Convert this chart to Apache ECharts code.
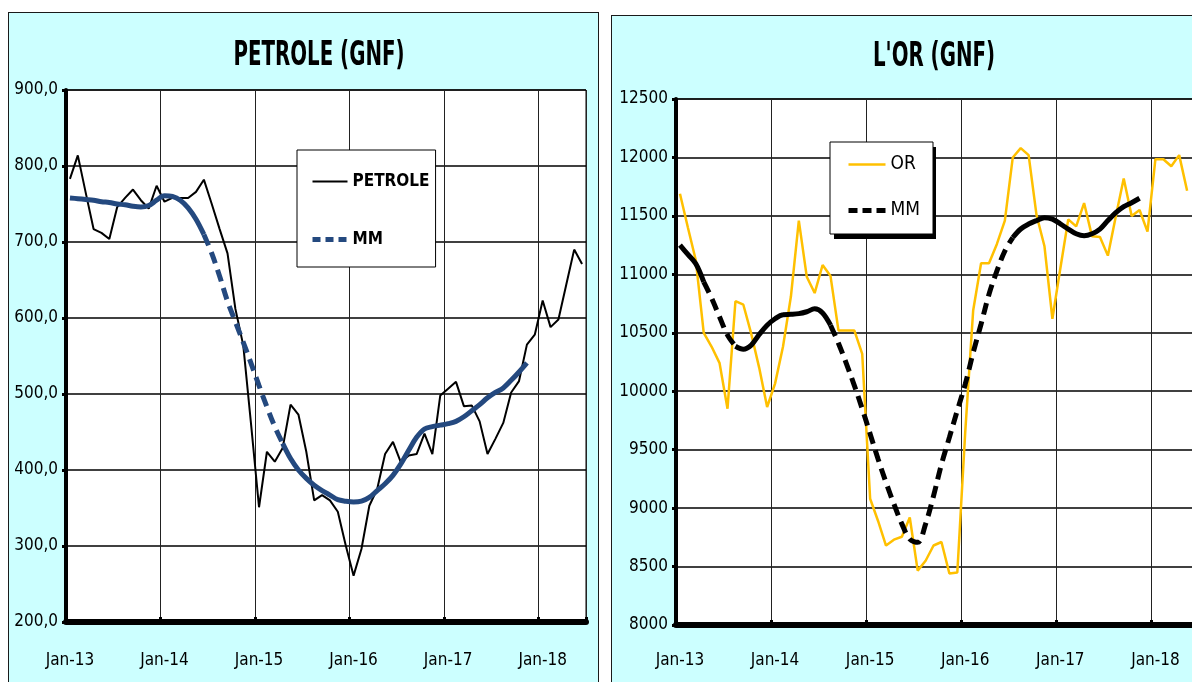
<!DOCTYPE html>
<html>
<head>
<meta charset="utf-8">
<script src="https://cdn.jsdelivr.net/npm/echarts@6/dist/echarts.min.js"></script>
<style>
  html, body { margin: 0; padding: 0; background: #fff; width: 1192px; height: 682px; overflow: hidden; }
  .panel { position: absolute; background: #ccffff; border: 1px solid #1a1a1a; height: 690px; }
  #petrole { left: 8px; top: 12px; width: 589px; }
  #or { left: 611px; top: 15px; width: 600px; }
</style>
</head>
<body>
<div id="petrole" class="panel"></div>
<div id="or" class="panel"></div>
<script>
// mois : Jan-13 ... Jun-18
const years = ['13', '14', '15', '16', '17', '18']
const monthNames = ['Jan', 'Feb', 'Mar', 'Apr', 'May', 'Jun', 'Jul', 'Aug', 'Sep', 'Oct', 'Nov', 'Dec']
const months = []
years.forEach(y => monthNames.forEach(m => months.push(m + '-' + y)))
months.length = 66

// PETROLE (GNF)
const petrole = [
  783, 814, 765, 717, 712, 704, 746, 758, 769, 755, 744, 774,
  753, 758, 758, 758, 766, 782, 750, 717, 685, 612, 564, 459,
  351, 424, 411, 429, 486, 473, 424, 360, 367, 360, 345, 301,
  261, 296, 353, 375, 421, 437, 410, 419, 421, 448, 421, 498,
  507, 516, 484, 485, 464, 421, 441, 462, 502, 517, 565, 578,
  623, 588, 598, 644, 690, 671
]
const petroleMM = [
  758, 757, 756, 755, 753, 752, 750, 749, 747, 746, 748, 755,
  761, 760, 755, 745, 730, 710, 685, 655, 622, 595, 568, 540,
  511, 483, 457, 435, 415, 400, 389, 380, 373, 367, 361, 359,
  358, 359, 364, 373, 382, 393, 408, 426, 443, 454, 457, 459,
  461, 464, 470, 478, 486, 495, 502, 508, 518, 529, 541
]
const petroleDashed = [[17, 27]]

// L'OR (GNF)
const or = [
  11690, 11400, 11120, 10500, 10380, 10240, 9850, 10770, 10740, 10490, 10200, 9865,
  10065, 10380, 10810, 11460, 10980, 10840, 11080, 10985, 10520, 10520, 10520, 10320,
  9080, 8890, 8680, 8730, 8755, 8920, 8465, 8550, 8680, 8710, 8440, 8450,
  9650, 10690, 11095, 11095, 11260, 11460, 12000, 12080, 12020, 11505, 11240, 10620,
  11050, 11470, 11410, 11610, 11325, 11320, 11160, 11495, 11820, 11500, 11550, 11365,
  11985, 11985, 11925, 12020, 11715
]
const orMM = [
  11250, 11170, 11090, 10935, 10795, 10635, 10480, 10385, 10360, 10395, 10485, 10565,
  10620, 10655, 10658, 10664, 10680, 10705, 10670, 10565, 10410, 10236, 10050, 9850,
  9635, 9420, 9220, 9035, 8865, 8735, 8707, 8865, 9105, 9375, 9605, 9835,
  10060, 10330, 10575, 10830, 11030, 11200, 11315, 11388, 11430, 11460, 11485, 11472,
  11432, 11387, 11347, 11330, 11347, 11387, 11460, 11528, 11579, 11613, 11651
]
const orDashed = [[3, 7], [19, 42]]

const NARROW = "'DejaVu Sans Condensed', 'Liberation Sans Narrow', sans-serif"

// coupe la moyenne mobile en partie pleine / partie pointillée
function splitDashed(values, ranges) {
  const inside = i => ranges.some(r => i > r[0] && i < r[1])
  const onDash = i => ranges.some(r => i >= r[0] && i <= r[1])
  return {
    solid: values.map((v, i) => (inside(i) ? null : v)),
    dashed: values.map((v, i) => (onDash(i) ? v : null))
  }
}

function xAxisCfg(labelMargin) {
  return {
    type: 'category',
    data: months,
    boundaryGap: true,
    axisLine: { lineStyle: { color: '#000', width: 6 } },
    axisTick: { show: true, inside: true, length: 5, interval: 11, lineStyle: { color: '#000', width: 3 } },
    axisLabel: { interval: 11, margin: labelMargin, color: '#000', fontFamily: NARROW, fontSize: 17 },
    splitLine: { show: true, interval: 11, lineStyle: { color: '#222', width: 1 } }
  }
}

function yAxisCfg(min, max, step, fmt) {
  return {
    type: 'value',
    min: min,
    max: max,
    interval: step,
    axisLine: { show: true, lineStyle: { color: '#000', width: 4 } },
    axisTick: { show: true, length: 4, lineStyle: { color: '#000', width: 3 } },
    axisLabel: { margin: 8, color: '#000', fontFamily: NARROW, fontSize: 17, formatter: fmt },
    splitLine: { show: true, lineStyle: { color: '#000', width: 1.5 } }
  }
}

function titleText(text, x, y) {
  return {
    type: 'text',
    x: x,
    y: y,
    scaleY: 1.5,
    z: 10,
    style: {
      text: text,
      fill: '#000',
      font: 'bold 22px ' + NARROW,
      align: 'center',
      verticalAlign: 'middle'
    }
  }
}

// ---- PETROLE ----
const pSplit = splitDashed(petroleMM, petroleDashed)
const petroleChart = echarts.init(document.getElementById('petrole'))
petroleChart.setOption({
  animation: false,
  graphic: [titleText('PETROLE (GNF)', 310, 43)],
  grid: { left: 57, top: 77, width: 520, height: 532, show: true, backgroundColor: '#fff', borderColor: '#000', borderWidth: 1 },
  legend: {
    data: [
      { name: 'PETROLE', lineStyle: { width: 2 } },
      { name: 'MM', lineStyle: { width: 5, type: [8, 5] } }
    ],
    orient: 'vertical',
    left: 288,
    top: 137,
    padding: [23, 6, 19, 13],
    itemGap: 41,
    itemWidth: 35,
    itemHeight: 20,
    selectedMode: false,
    itemStyle: { opacity: 0 },
    backgroundColor: '#fff',
    borderColor: '#000',
    borderWidth: 1,
    textStyle: { fontFamily: NARROW, fontSize: 17, fontWeight: 'bold', color: '#000' }
  },
  xAxis: xAxisCfg(30),
  yAxis: yAxisCfg(200, 900, 100, v => v.toFixed(1).replace('.', ',')),
  series: [
    {
      name: 'PETROLE', type: 'line', data: petrole, symbol: 'none',
      lineStyle: { color: '#000', width: 2 }, itemStyle: { color: '#000' }
    },
    {
      name: 'MM plein', type: 'line', data: pSplit.solid, symbol: 'none', smooth: 0.35,
      lineStyle: { color: '#24497f', width: 5 }, itemStyle: { color: '#24497f' }
    },
    {
      name: 'MM', type: 'line', data: pSplit.dashed, symbol: 'none', smooth: 0.35,
      lineStyle: { color: '#24497f', width: 5, type: [12, 7] }, itemStyle: { color: '#24497f' }
    }
  ]
})

// ---- OR ----
const oSplit = splitDashed(orMM, orDashed)
const orChart = echarts.init(document.getElementById('or'))
orChart.setOption({
  animation: false,
  graphic: [
    titleText("L'OR (GNF)", 322, 41),
    // ombre portée de la légende
    { type: 'rect', z: 3, shape: { x: 222, y: 131, width: 102, height: 92 }, style: { fill: '#000' } }
  ],
  grid: { left: 64, top: 83, width: 523, height: 526, show: true, backgroundColor: '#fff', borderColor: '#000', borderWidth: 1 },
  legend: {
    data: [
      { name: 'OR', lineStyle: { width: 2.5 } },
      { name: 'MM', lineStyle: { width: 5, type: [9, 5] } }
    ],
    orient: 'vertical',
    left: 218,
    top: 126,
    padding: [13, 13, 14, 16],
    itemGap: 27,
    itemWidth: 37,
    itemHeight: 20,
    selectedMode: false,
    itemStyle: { opacity: 0 },
    backgroundColor: '#fff',
    borderColor: '#000',
    borderWidth: 1,
    textStyle: { fontFamily: NARROW, fontSize: 19, color: '#000' }
  },
  xAxis: xAxisCfg(27),
  yAxis: yAxisCfg(8000, 12500, 500, v => String(v)),
  series: [
    {
      name: 'OR', type: 'line', data: or, symbol: 'none',
      lineStyle: { color: '#ffc000', width: 2.5 }, itemStyle: { color: '#ffc000' }
    },
    {
      name: 'MM plein', type: 'line', data: oSplit.solid, symbol: 'none', smooth: 0.35,
      lineStyle: { color: '#000', width: 5 }, itemStyle: { color: '#000' }
    },
    {
      name: 'MM', type: 'line', data: oSplit.dashed, symbol: 'none', smooth: 0.35,
      lineStyle: { color: '#000', width: 5, type: [12, 7] }, itemStyle: { color: '#000' }
    }
  ]
})
</script>
</body>
</html>
